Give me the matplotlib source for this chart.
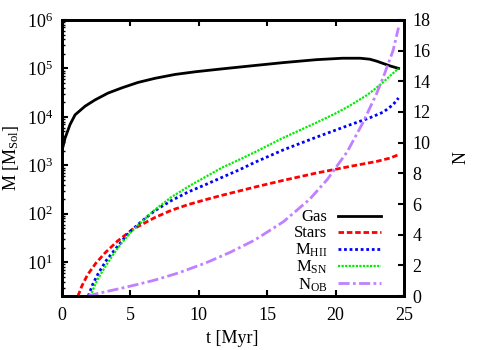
import matplotlib
matplotlib.use("Agg")
import matplotlib.pyplot as plt
from matplotlib.ticker import LogLocator, NullFormatter

plt.rcParams['font.family'] = ['Liberation Serif', 'DejaVu Serif']
plt.rcParams['mathtext.fontset'] = 'custom'
plt.rcParams['mathtext.rm'] = 'Liberation Serif'
plt.rcParams['mathtext.it'] = 'Liberation Serif:italic'
plt.rcParams['font.size'] = 13

# ---- data ----
t_gas = [0.0, 0.015, 0.26, 0.62, 0.99, 1.72, 2.45, 3.39, 4.42, 5.58, 6.82, 8.28, 9.75, 11.7, 14.1, 16.2, 18.6, 20.5, 21.8, 22.5, 23.0, 23.5, 24.0, 24.6]
m_gas = [1000, 1900, 3630, 6900, 11000, 16600, 22400, 30900, 39800, 51300, 62400, 75000, 85100, 97700, 114800, 131800, 151400, 162200, 162200, 154900, 141300, 125900, 112200, 100000]

t_stars = [1.2, 1.5, 1.9, 2.5, 3.2, 4.1, 5.15, 6.0, 6.8, 8.0, 9.25, 10.5, 11.7, 14.1, 16.2, 18.6, 21.1, 23.0, 24.0, 24.6]
m_stars = [2.0, 3.3, 5.5, 9.5, 15.8, 27.5, 46.8, 63.1, 83.2, 117.5, 154.9, 195, 240, 355, 490, 692, 955, 1202, 1413, 1660]

t_hii = [1.95, 2.3, 2.7, 3.3, 3.9, 4.5, 5.15, 6.0, 6.8, 8.0, 9.25, 10.5, 11.7, 13.0, 14.1, 16.2, 18.6, 21.1, 22.5, 23.5, 24.2, 24.6]
m_hii = [2.0, 3.6, 6.0, 11.2, 18.2, 29.5, 46.8, 75.9, 115, 186, 282, 398, 562, 813, 1148, 2089, 3802, 6918, 9550, 12590, 17800, 24500]

t_sn = [2.1, 2.6, 3.2, 3.8, 4.4, 5.0, 5.6, 6.8, 8.0, 9.25, 10.5, 11.7, 13.0, 14.1, 16.2, 18.6, 20.0, 21.1, 22.3, 22.9, 23.5, 24.0, 24.6]
m_sn = [2.0, 4.27, 8.13, 14.8, 25.1, 39.8, 58.9, 120, 219, 363, 575, 891, 1318, 1862, 3715, 7586, 11750, 17380, 28180, 38020, 52480, 70790, 100000]

t_ob = [1.9, 2.45, 3.3, 4.4, 5.5, 6.8, 8.5, 10.5, 12.3, 14.1, 16.2, 18.1, 19.4, 20.85, 22.0, 23.0, 23.5, 24.2, 24.6]
n_ob = [0.0, 0.13, 0.3, 0.52, 0.75, 1.04, 1.5, 2.15, 2.85, 3.65, 4.85, 6.3, 7.6, 9.4, 11.3, 13.2, 14.3, 16.0, 17.5]

labels = ['Gas', 'Stars', r'M$_{\mathrm{HII}}$', r'M$_{\mathrm{SN}}$', r'N$_{\mathrm{OB}}$']
x_ticks = [0, 5, 10, 15, 20, 25]
n_ticks = [0, 2, 4, 6, 8, 10, 12, 14, 16, 18]

fig = plt.figure(figsize=(5, 3.5), dpi=100)
ax = fig.add_axes([0.123, 0.154, 0.685, 0.789])
ax2 = ax.twinx()

l1, = ax.plot(t_gas, m_gas, color='black', lw=2.0, label=labels[0])
l2, = ax.plot(t_stars, m_stars, color='#ff0000', lw=2.0, ls=(0, (2, 1)), label=labels[1])
l3, = ax.plot(t_hii, m_hii, color='#0000ff', lw=2.0, ls=(0, (1, 1)), label=labels[2])
l4, = ax.plot(t_sn, m_sn, color='#00ee00', lw=1.6, ls=(0, (1, 0.6)), label=labels[3])
l5, = ax2.plot(t_ob, n_ob, color='#c080ff', lw=2.0, ls=(0, (4, 1.2, 1, 1.2)), label=labels[4])

ax.set_yscale('log')
ax.set_xlim(0, 25)
ax.set_ylim(2, 1e6)
ax2.set_ylim(0, 18)
ax.set_xticks(x_ticks)
ax.yaxis.set_major_locator(LogLocator(base=10, numticks=10))
ax.yaxis.set_minor_locator(LogLocator(base=10, subs=(2, 3, 4, 5, 6, 7, 8, 9), numticks=10))
ax.yaxis.set_minor_formatter(NullFormatter())
ax2.set_yticks(n_ticks)

ax.tick_params(axis='x', which='both', direction='in', top=True, length=4, width=1.5, pad=8)
ax.tick_params(axis='y', which='major', direction='in', right=False, length=4, width=1.5, pad=6)
ax.tick_params(axis='y', which='minor', direction='in', right=False, length=2, width=1.0)
ax2.tick_params(axis='y', direction='in', length=4, width=1.5, pad=6)

for a in (ax, ax2):
    for s in a.spines.values():
        s.set_linewidth(2.0)

ax.set_xlabel('t [Myr]', labelpad=4)
ax.set_ylabel(r'M [M$_{\mathrm{Sol}}$]', labelpad=4)
ax2.set_ylabel('N', labelpad=16)

leg = ax.legend(handles=[l1, l2, l3, l4, l5], loc='lower right',
                bbox_to_anchor=(0.94, 0.0), frameon=False,
                markerfirst=False, handlelength=2.6, handletextpad=0.6,
                labelspacing=0.0, borderaxespad=0.0, borderpad=0.15, fontsize=12)

fig.savefig('out.png', dpi=100)
